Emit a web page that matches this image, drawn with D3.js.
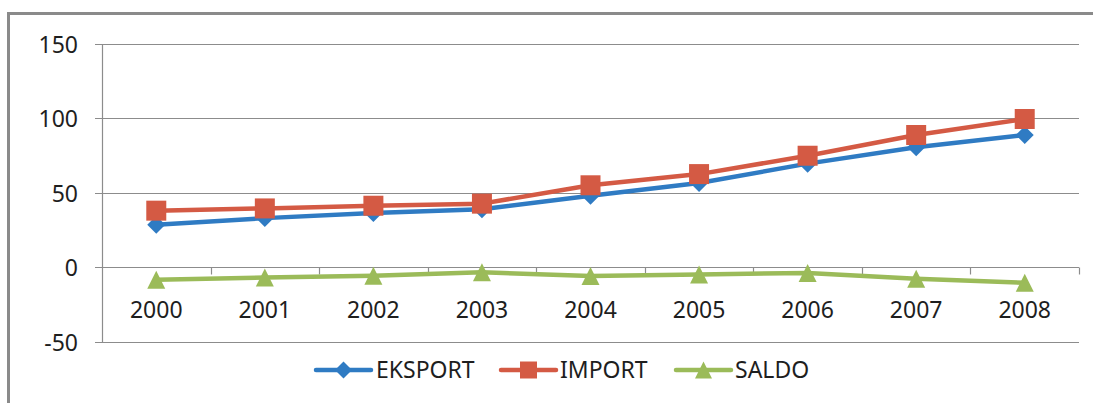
<!DOCTYPE html>
<html>
<head>
<meta charset="utf-8">
<script src="https://cdn.jsdelivr.net/npm/d3@7"></script>
<style>
  html, body { margin: 0; padding: 0; background: #ffffff; }
  svg { display: block; }
  text { font-family: "Noto Sans", "Open Sans", sans-serif; fill: #1e1e1e; }
</style>
</head>
<body>
<svg id="chart" width="1093" height="403"></svg>
<script>
// ---- data ----
const years = ["2000", "2001", "2002", "2003", "2004", "2005", "2006", "2007", "2008"];
const eksport = [28.5, 33, 36.5, 39, 48, 56.5, 69.5, 80.5, 88.7];
const importVals = [38, 39.5, 41.3, 42.7, 55, 62.5, 74.8, 88.7, 99.4];
const saldo = [-8.3, -6.8, -5.6, -3.3, -5.8, -4.8, -3.7, -7.7, -10.3];
const yTicks = [-50, 0, 50, 100, 150];
const seriesNames = ["EKSPORT", "IMPORT", "SALDO"];

(function () {
const colors = { EKSPORT: "#2f7bc3", IMPORT: "#d45a44", SALDO: "#9bbb59" };
const series = [
  { name: seriesNames[0], values: eksport, shape: "diamond" },
  { name: seriesNames[1], values: importVals, shape: "square" },
  { name: seriesNames[2], values: saldo, shape: "triangle" }
];

const svg = d3.select("#chart");
const pLeft = 102, pRight = 1079, pTop = 43.5, pBottom = 342;
const fs = 23;

const x = d3.scaleBand().domain(years).range([pLeft, pRight]).paddingInner(0).paddingOuter(0);
const xc = d => x(d) + x.bandwidth() / 2;
const y = d3.scaleLinear().domain([-50, 150]).range([pBottom, pTop]);

// outer frame (top and left visible)
svg.append("path")
  .attr("d", `M8.5,403 L8.5,13.5 L1093,13.5`)
  .attr("fill", "none").attr("stroke", "#8a8a8a").attr("stroke-width", 3);

// gridlines
const gridColor = "#8c8c8c";
svg.append("g").selectAll("line").data(yTicks).join("line")
  .attr("x1", pLeft - 7).attr("x2", pRight)
  .attr("y1", d => Math.round(y(d)) + 0.5).attr("y2", d => Math.round(y(d)) + 0.5)
  .attr("stroke", gridColor).attr("stroke-width", 1.2);

// y axis line
svg.append("line")
  .attr("x1", pLeft + 0.5).attr("x2", pLeft + 0.5)
  .attr("y1", Math.round(y(150)) + 0.5).attr("y2", Math.round(y(-50)) + 0.5)
  .attr("stroke", gridColor).attr("stroke-width", 1.2);

// x-axis tick marks on the zero line
const y0 = Math.round(y(0)) + 0.5;
const boundaries = d3.range(1, years.length + 1).map(i => pLeft + i * x.bandwidth());
svg.append("g").selectAll("line").data(boundaries).join("line")
  .attr("x1", d => Math.round(d) + 0.5).attr("x2", d => Math.round(d) + 0.5)
  .attr("y1", y0).attr("y2", y0 + 7)
  .attr("stroke", gridColor).attr("stroke-width", 1.2);

// y tick labels
svg.append("g").selectAll("text").data(yTicks).join("text")
  .attr("x", 78).attr("y", d => y(d))
  .attr("text-anchor", "end").attr("dominant-baseline", "central")
  .attr("font-size", fs)
  .text(d => d);

// x tick labels
svg.append("g").selectAll("text").data(years).join("text")
  .attr("x", d => xc(d)).attr("y", 309)
  .attr("text-anchor", "middle").attr("dominant-baseline", "central")
  .attr("font-size", fs)
  .text(d => d);

// marker paths
function markerPath(shape, s) {
  const h = s / 2;
  if (shape === "diamond") return `M0,${-h} L${h},0 L0,${h} L${-h},0 Z`;
  if (shape === "square") return `M${-h},${-h} H${h} V${h} H${-h} Z`;
  return `M0,${-h} L${h},${h} L${-h},${h} Z`;
}
const markerSize = { diamond: 18, square: 20, triangle: 18 };

const line = d3.line().x((d, i) => xc(years[i])).y(d => y(d));

series.forEach(s => {
  const g = svg.append("g");
  g.append("path")
    .attr("d", line(s.values))
    .attr("fill", "none").attr("stroke", colors[s.name])
    .attr("stroke-width", 4.5).attr("stroke-linejoin", "round").attr("stroke-linecap", "round");
  g.selectAll("path.m").data(s.values).join("path")
    .attr("class", "m")
    .attr("transform", (d, i) => `translate(${xc(years[i])},${y(d)})`)
    .attr("d", markerPath(s.shape, markerSize[s.shape]))
    .attr("fill", colors[s.name]);
});

// legend
const legendItems = [
  { name: seriesNames[0], shape: "diamond", x0: 316, textX: 376 },
  { name: seriesNames[1], shape: "square", x0: 501, textX: 560 },
  { name: seriesNames[2], shape: "triangle", x0: 676, textX: 735 }
];
const ly = 370;
legendItems.forEach(it => {
  const g = svg.append("g");
  g.append("line")
    .attr("x1", it.x0).attr("x2", it.x0 + 55)
    .attr("y1", ly).attr("y2", ly)
    .attr("stroke", colors[it.name]).attr("stroke-width", 4.5).attr("stroke-linecap", "round");
  g.append("path")
    .attr("transform", `translate(${it.x0 + 27.5},${ly})`)
    .attr("d", markerPath(it.shape, 17))
    .attr("fill", colors[it.name]);
  g.append("text")
    .attr("x", it.textX).attr("y", 369)
    .attr("dominant-baseline", "central")
    .attr("font-size", fs)
    .text(it.name);
});
})();
</script>
</body>
</html>
